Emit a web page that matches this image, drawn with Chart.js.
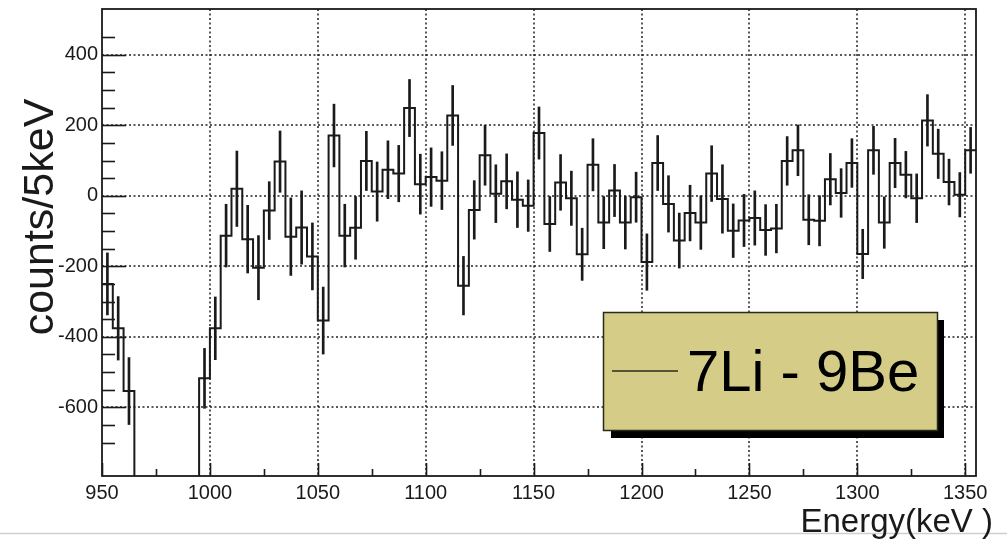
<!DOCTYPE html>
<html>
<head>
<meta charset="utf-8">
<title>7Li - 9Be difference spectrum</title>
<script src="https://cdn.jsdelivr.net/npm/chart.js@4.4.1/dist/chart.umd.min.js"></script>
<style>
  html, body { margin: 0; padding: 0; background: #fff; }
  #wrap { width: 1007px; height: 540px; }
</style>
</head>
<body>
<div id="wrap"><canvas id="spectrum" width="1007" height="540"></canvas></div>
<script>
// ------------------------------------------------------------
// Difference spectrum (7Li - 9Be), 5 keV bins, ROOT-style frame
// ------------------------------------------------------------

// low edge of every 5 keV bin
const binLow = [
  950, 955, 960, 965, 970, 975, 980, 985, 990, 995,
  1000, 1005, 1010, 1015, 1020, 1025, 1030, 1035, 1040, 1045,
  1050, 1055, 1060, 1065, 1070, 1075, 1080, 1085, 1090, 1095,
  1100, 1105, 1110, 1115, 1120, 1125, 1130, 1135, 1140, 1145,
  1150, 1155, 1160, 1165, 1170, 1175, 1180, 1185, 1190, 1195,
  1200, 1205, 1210, 1215, 1220, 1225, 1230, 1235, 1240, 1245,
  1250, 1255, 1260, 1265, 1270, 1275, 1280, 1285, 1290, 1295,
  1300, 1305, 1310, 1315, 1320, 1325, 1330, 1335, 1340, 1345,
  1350,
];
const binHigh = 1355;

// counts per bin (965-990 fall below the visible range)
const counts = [
  -250, -376, -554, -1000, -1000, -1000, -1000, -1000, -1000, -518,
  -376, -113, 20, -123, -204, -42, 97, -116, -90, -172,
  -354, 171, -113, -91, 99, 12, 74, 63, 249, 33,
  53, 43, 228, -255, -40, 115, 6, 41, -11, -28,
  178, -80, 38, -7, -166, 88, -76, 15, -76, -4,
  -188, 93, -23, -127, -49, -76, 63, -9, -99, -70,
  -63, -97, -93, 99, 129, -68, -71, 47, 8, 93,
  -165, 129, -76, 93, 60, -7, 214, 119, 39, 3,
  129,
];

// symmetric error per bin (null where nothing is visible)
const errors = [
  88, 90, 95, null, null, null, null, null, null, 85,
  89, 89, 107, 96, 91, 82, 87, 110, 104, 95,
  95, 89, 89, 89, 84, 84, 82, 80, 81, 85,
  83, 82, 85, 83, 83, 85, 82, 78, 79, 73,
  74, 78, 79, 77, 74, 74, 74, 74, 75, 71,
  80, 78, 80, 78, 79, 76, 79, 97, 76, 74,
  77, 72, 69, 69, 72, 71, 71, 73, 69, 69,
  70, 68, 73, 70, 66, 69, 73, 70, 65, 63,
  65,
];

const legendLabel = "7Li - 9Be";
const xTitle = "Energy(keV )";
const yTitle = "counts/5keV";

const INK = "#1a1a1a";
const FONT = "'Liberation Sans', Arial, Helvetica, sans-serif";

// histogram outline: one point per low edge, plus the closing edge
const histPoints = binLow.map((x, i) => ({ x, y: counts[i] }));
histPoints.push({ x: binHigh, y: counts[counts.length - 1] });

// error bars as thin floating bars at bin centres
const errPoints = [];
binLow.forEach((x, i) => {
  if (errors[i] == null) return;
  errPoints.push({ x: x + 2.5, y: [counts[i] - errors[i], counts[i] + errors[i]] });
});

const rootFrame = {
  id: "rootFrame",
  beforeDraw(chart) {
    const { ctx, width } = chart;
    ctx.save();
    ctx.fillStyle = "#fff";
    ctx.fillRect(0, 0, chart.width, chart.height);
    ctx.strokeStyle = "#cfcfcf";
    ctx.lineWidth = 1.5;
    ctx.beginPath();
    ctx.moveTo(0, 533.5);
    ctx.lineTo(width, 533.5);
    ctx.stroke();
    ctx.restore();
  },
  beforeDatasetsDraw(chart) {
    const { ctx, chartArea: a, scales: { x, y } } = chart;
    ctx.save();
    ctx.strokeStyle = "#222";
    ctx.lineWidth = 1.5;
    ctx.setLineDash([2, 2.5]);
    x.ticks.forEach((t) => {
      if (t.value % 50 !== 0 || t.value <= x.min || t.value >= x.max) return;
      const px = Math.round(x.getPixelForValue(t.value));
      ctx.beginPath();
      ctx.moveTo(px, a.top);
      ctx.lineTo(px, a.bottom);
      ctx.stroke();
    });
    y.ticks.forEach((t) => {
      if (t.value % 200 !== 0 || t.value <= y.min || t.value >= y.max) return;
      const py = Math.round(y.getPixelForValue(t.value));
      ctx.beginPath();
      ctx.moveTo(a.left, py);
      ctx.lineTo(a.right, py);
      ctx.stroke();
    });
    ctx.restore();
  },
  afterDatasetsDraw(chart) {
    const { ctx, chartArea: a, scales: { x, y } } = chart;
    ctx.save();

    // frame
    ctx.strokeStyle = INK;
    ctx.lineWidth = 1.8;
    ctx.strokeRect(a.left, a.top, a.right - a.left, a.bottom - a.top);

    // tick marks point inward, ROOT style
    ctx.lineWidth = 1.6;
    x.ticks.forEach((t) => {
      if (t.value % 25 !== 0 || t.value < x.min || t.value > x.max) return;
      const px = Math.round(x.getPixelForValue(t.value)) + 0.5;
      const len = t.value % 50 === 0 ? 13 : 7;
      ctx.beginPath();
      ctx.moveTo(px, a.bottom);
      ctx.lineTo(px, a.bottom - len);
      ctx.stroke();
    });
    y.ticks.forEach((t) => {
      if (t.value % 50 !== 0 || t.value < y.min || t.value > y.max) return;
      const py = Math.round(y.getPixelForValue(t.value)) + 0.5;
      const len = t.value % 200 === 0 ? 24 : 13;
      ctx.beginPath();
      ctx.moveTo(a.left, py);
      ctx.lineTo(a.left + len, py);
      ctx.stroke();
    });

    // legend box with drop shadow
    ctx.fillStyle = "#000";
    ctx.fillRect(611, 320, 333, 118);
    ctx.fillStyle = "#d5cd87";
    ctx.fillRect(603, 312, 335, 119);
    ctx.strokeStyle = "#2a2a1a";
    ctx.lineWidth = 1.5;
    ctx.strokeRect(603.5, 312.5, 334, 118);
    ctx.strokeStyle = "#2e2a18";
    ctx.lineWidth = 1.6;
    ctx.beginPath();
    ctx.moveTo(612, 371);
    ctx.lineTo(678, 371);
    ctx.stroke();
    ctx.fillStyle = "#000";
    ctx.font = "58px " + FONT;
    ctx.textAlign = "left";
    ctx.textBaseline = "alphabetic";
    ctx.fillText(legendLabel, 687, 391);

    // axis titles
    ctx.fillStyle = INK;
    ctx.font = "33px " + FONT;
    ctx.textAlign = "right";
    ctx.fillText(xTitle, 993, 532);

    ctx.translate(53, 217);
    ctx.rotate(-Math.PI / 2);
    ctx.font = "43px " + FONT;
    ctx.textAlign = "center";
    ctx.fillText(yTitle, 0, 0);

    ctx.restore();
  },
};

new Chart(document.getElementById("spectrum"), {
  type: "line",
  data: {
    datasets: [
      {
        label: legendLabel,
        data: histPoints,
        stepped: "before",
        borderColor: INK,
        borderWidth: 2,
        pointRadius: 0,
        fill: false,
        tension: 0,
      },
      {
        type: "bar",
        label: "errors",
        data: errPoints,
        backgroundColor: INK,
        borderWidth: 0,
        barThickness: 2,
        grouped: false,
      },
    ],
  },
  options: {
    responsive: false,
    devicePixelRatio: 1,
    animation: false,
    layout: { padding: { left: 0, right: 31, top: 9, bottom: 0 } },
    plugins: {
      legend: { display: false },
      tooltip: { enabled: false },
    },
    scales: {
      x: {
        type: "linear",
        min: 950,
        max: binHigh,
        offset: false,
        afterFit: (s) => { s.height = 64; s.paddingLeft = 0; s.paddingRight = 0; },
        grid: { display: false, drawTicks: false },
        border: { display: false },
        ticks: {
          stepSize: 25,
          includeBounds: false,
          autoSkip: false,
          maxRotation: 0,
          padding: 5,
          color: INK,
          font: { family: FONT, size: 20 },
          callback: (v) => (v % 50 === 0 ? String(v) : ""),
        },
      },
      y: {
        min: -795,
        max: 530,
        afterFit: (s) => { s.width = 102; s.paddingTop = 0; s.paddingBottom = 0; },
        grid: { display: false, drawTicks: false },
        border: { display: false },
        ticks: {
          stepSize: 50,
          autoSkip: false,
          padding: 4,
          color: INK,
          font: { family: FONT, size: 20 },
          callback: (v) => (v % 200 === 0 ? String(v) : ""),
        },
      },
    },
  },
  plugins: [rootFrame],
});
</script>
</body>
</html>
